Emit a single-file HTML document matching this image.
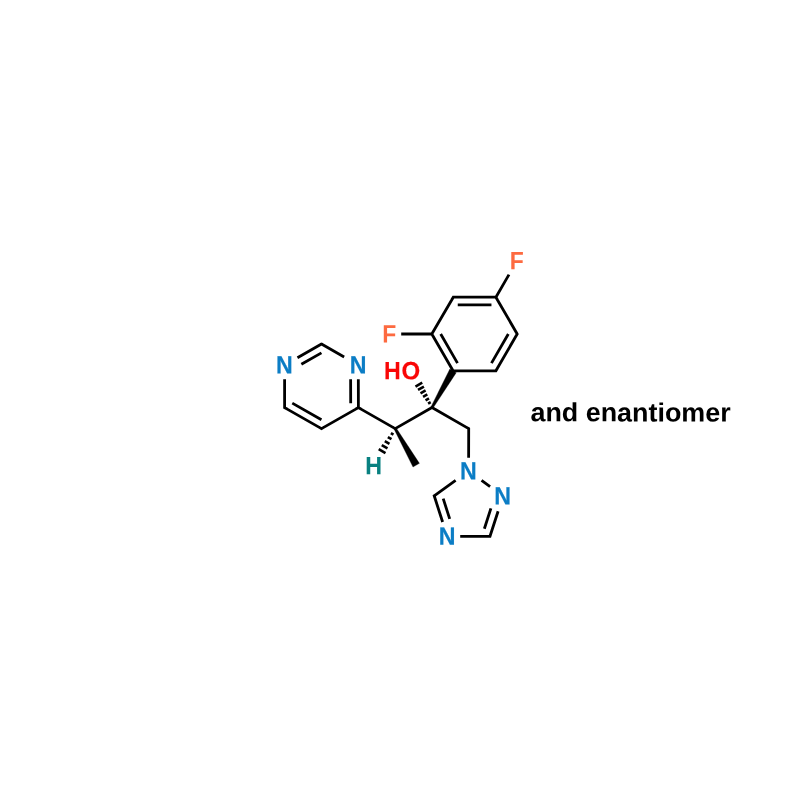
<!DOCTYPE html>
<html lang="en"><head><meta charset="utf-8"><title>Structure</title>
<style>
html,body{margin:0;padding:0;background:#fff;}
body{width:800px;height:800px;overflow:hidden;}
svg{display:block;will-change:transform;}
text{font-family:"Liberation Sans",sans-serif;font-weight:bold;}
</style></head><body>
<svg width="800" height="800" viewBox="0 0 800 800">
<rect width="800" height="800" fill="#ffffff"/>
<g stroke="#000" stroke-width="2.80" stroke-linecap="butt" stroke-linejoin="miter" fill="none">
<path d="M297.46 357.68L321.50 344.00 M301.36 364.32L321.44 352.89 M321.50 344.00L344.14 356.92 M358.33 379.25L358.40 407.60 M350.63 379.27L350.69 403.17 M358.40 407.60L321.50 428.60 M321.50 428.60L284.60 407.60 M321.44 419.71L292.28 403.11 M284.60 407.60L284.60 379.25 M358.40 407.60L395.20 428.60 M395.20 428.60L432.00 407.50 M432.00 407.50L468.70 428.60 M468.70 428.60L468.63 457.70 M453.05 370.80L431.80 334.00 M457.49 363.10L440.69 334.00 M431.80 334.00L453.30 297.20 M453.30 297.20L495.90 297.20 M457.75 304.90L491.45 304.90 M495.90 297.20L517.20 334.00 M517.20 334.00L495.90 370.80 M508.31 333.99L491.47 363.09 M495.90 370.80L453.05 370.80 M431.80 334.00L401.20 334.00 M495.90 297.20L508.98 274.59 M481.54 480.41L490.06 486.59 M498.09 511.23L490.00 536.30 M490.91 508.39L484.36 528.70 M490.00 536.30L460.20 536.30 M442.62 522.02L434.20 495.80 M449.70 518.90L443.21 498.68 M434.20 495.80L455.62 480.36 M318.89 345.48L321.50 344.00L324.11 345.49 M358.39 404.60L358.40 407.60L355.79 409.08 M358.39 404.60L358.40 407.60L361.01 409.09 M355.79 409.08L358.40 407.60L361.01 409.09 M324.11 427.12L321.50 428.60L318.89 427.12 M287.21 409.08L284.60 407.60L284.60 404.60 M392.59 427.11L395.20 428.60L397.80 427.11 M429.40 408.99L432.00 407.50L434.60 409.00 M466.10 427.10L468.70 428.60L468.69 431.60 M451.55 368.20L453.05 370.80L456.05 370.80 M433.30 336.60L431.80 334.00L433.31 331.41 M433.30 336.60L431.80 334.00L428.80 334.00 M433.31 331.41L431.80 334.00L428.80 334.00 M451.79 299.79L453.30 297.20L456.30 297.20 M492.90 297.20L495.90 297.20L497.40 299.80 M492.90 297.20L495.90 297.20L497.40 294.60 M497.40 299.80L495.90 297.20L497.40 294.60 M515.70 331.40L517.20 334.00L515.70 336.60 M497.40 368.20L495.90 370.80L492.90 370.80 M490.92 533.44L490.00 536.30L487.00 536.30 M435.12 498.66L434.20 495.80L436.63 494.05"/>
</g>
<g fill="#000" stroke="#000" stroke-width="0.3" stroke-linejoin="miter">
<polygon points="430.96,406.90 433.04,408.10 456.26,372.64 449.84,368.96"/>
<polygon points="396.24,428.00 394.16,429.20 412.99,467.04 419.41,463.36"/>
</g>
<g stroke="#000" stroke-linecap="butt" fill="none">
<line x1="428.08" y1="403.70" x2="430.69" y2="402.20" stroke-width="2.60"/>
<line x1="425.56" y1="400.27" x2="428.99" y2="398.29" stroke-width="2.60"/>
<line x1="423.04" y1="396.84" x2="427.30" y2="394.39" stroke-width="2.60"/>
<line x1="420.51" y1="393.41" x2="425.61" y2="390.48" stroke-width="2.60"/>
<line x1="417.99" y1="389.98" x2="423.92" y2="386.57" stroke-width="2.60"/>
<line x1="415.47" y1="386.55" x2="422.23" y2="382.67" stroke-width="2.60"/>
<line x1="393.47" y1="434.54" x2="390.88" y2="433.03" stroke-width="2.60"/>
<line x1="391.47" y1="439.16" x2="387.84" y2="437.04" stroke-width="2.60"/>
<line x1="389.47" y1="443.78" x2="384.81" y2="441.06" stroke-width="2.60"/>
<line x1="387.47" y1="448.40" x2="381.77" y2="445.08" stroke-width="2.60"/>
<line x1="385.47" y1="453.02" x2="378.73" y2="449.10" stroke-width="2.60"/>
</g>
<g font-size="24px" text-anchor="middle" stroke-width="0.2" stroke-linejoin="miter">
<text transform="translate(284.36 373.60) rotate(0.05) scale(0.9660 1.0417)" fill="#0b7dc5" stroke="#0b7dc5" stroke-width="0.2">N</text>
<text transform="translate(358.11 373.60) rotate(0.05) scale(0.9660 1.0417)" fill="#0b7dc5" stroke="#0b7dc5" stroke-width="0.2">N</text>
<text transform="translate(468.41 479.50) rotate(0.05) scale(0.9660 1.0417)" fill="#0b7dc5" stroke="#0b7dc5" stroke-width="0.2">N</text>
<text transform="translate(502.71 504.50) rotate(0.05) scale(0.9660 1.0417)" fill="#0b7dc5" stroke="#0b7dc5" stroke-width="0.2">N</text>
<text transform="translate(447.11 544.70) rotate(0.05) scale(0.9660 1.0417)" fill="#0b7dc5" stroke="#0b7dc5" stroke-width="0.2">N</text>
<text transform="translate(389.35 342.50) rotate(0.05) scale(0.9550 1.0417)" fill="#fd6a40" stroke="#fd6a40" stroke-width="0">F</text>
<text transform="translate(516.65 269.35) rotate(0.05) scale(0.9550 1.0417)" fill="#fd6a40" stroke="#fd6a40" stroke-width="0">F</text>
<text transform="translate(373.71 474.15) rotate(0.05) scale(0.9660 1.0417)" fill="#098181" stroke="#098181" stroke-width="0.1">H</text>
<text transform="translate(392.48 379.20) rotate(0.05) scale(0.9660 1.0417)" fill="#f90606" stroke="#f90606" stroke-width="0.1">H</text>
<text transform="translate(410.76 379.20) rotate(0.05) scale(1.0000 1.0417)" fill="#f90606" stroke="#f90606" stroke-width="0.2">O</text>
</g>
<text transform="translate(530.45 421.3) rotate(0.05) scale(1 0.98)" font-size="26.9px" fill="#000">and enantiomer</text>
</svg>
</body></html>
